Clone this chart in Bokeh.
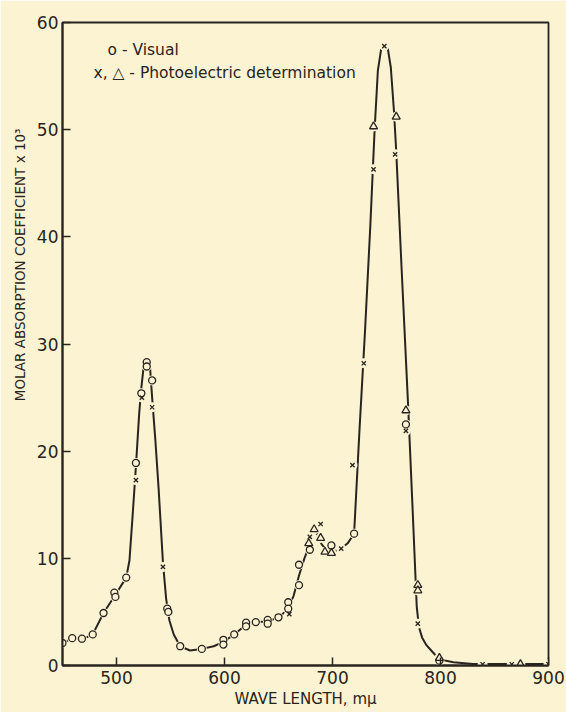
from bokeh.plotting import figure
from bokeh.models import Range1d, FixedTicker, Label, Title
from bokeh.embed import file_html
from bokeh.resources import INLINE

# ---- data ----
curve_wl = [450, 460, 470, 478, 488, 499, 509, 512, 515, 518, 521, 523, 525, 528, 531,
            533, 536, 539, 543, 546, 549, 553, 559, 568, 579, 590, 599, 609, 620, 630,
            640, 650, 656, 660, 664, 669, 674, 679, 683, 686, 690, 695, 700, 708, 714,
            720, 725, 730, 735, 739, 742, 745, 748, 751, 754, 757, 759, 764, 770, 774,
            778, 780, 783, 787, 791, 795, 800, 812, 830, 860, 900]
curve_val = [2.1, 2.55, 2.5, 2.9, 4.9, 6.6, 8.2, 9.8, 14.1, 18.6, 23.5, 25.9, 27.75, 28.6, 27.9,
             25.0, 21.0, 16.5, 9.6, 6.2, 4.2, 2.9, 1.8, 1.4, 1.55, 1.8, 2.2, 2.9, 3.8, 4.05,
             4.1, 4.5, 5.0, 5.6, 6.5, 8.4, 10.0, 11.3, 12.6, 12.2, 11.3, 10.7, 10.6, 10.9, 11.4,
             12.3, 22.0, 31.0, 41.0, 50.0, 55.5, 57.5, 57.9, 57.7, 55.8, 51.6, 48.0, 37.0, 24.3, 15.0,
             5.5, 3.6, 2.6, 1.9, 1.45, 1.0, 0.55, 0.3, 0.15, 0.15, 0.15]

visual_wl = [450, 459, 468, 478, 488, 498, 499, 509, 518, 523, 528, 528, 533, 547, 548,
             559, 579, 599, 599, 609, 620, 620, 629, 640, 640, 650, 659, 659, 669, 669,
             679, 699, 720, 768, 799]
visual_val = [2.1, 2.55, 2.5, 2.9, 4.9, 6.8, 6.4, 8.2, 18.9, 25.4, 28.3, 27.9, 26.6, 5.3, 5.0,
              1.8, 1.55, 2.4, 1.95, 2.9, 4.0, 3.65, 4.05, 4.25, 3.9, 4.5, 5.9, 5.3, 7.5, 9.4,
              10.8, 11.2, 12.3, 22.5, 0.45]

photo_x_wl = [518, 523.5, 533, 543, 660, 679, 689, 708, 718.5, 729, 738, 748, 758, 768, 779,
              839, 866, 900]
photo_x_val = [17.3, 25.0, 24.1, 9.2, 4.8, 12.0, 13.2, 10.9, 18.7, 28.2, 46.3, 57.8, 47.7, 21.9, 3.9,
               0.12, 0.12, 0.12]

photo_tri_wl = [678, 683, 689, 693, 699, 738, 759, 768, 779, 779, 799, 874]
photo_tri_val = [11.4, 12.7, 11.9, 10.6, 10.5, 50.3, 51.2, 23.8, 7.5, 7.0, 0.7, 0.12]

x_ticks = [500, 600, 700, 800, 900]
y_ticks = [0, 10, 20, 30, 40, 50, 60]

BG = "#FCF3D3"
INK = "#2A2420"
FONT = "DejaVu Sans"

p = figure(width=566, height=712, output_backend="svg", toolbar_location=None,
           x_range=Range1d(450, 900), y_range=Range1d(0, 60),
           min_border_left=62, min_border_right=18, min_border_top=22, min_border_bottom=47)
p.background_fill_color = BG
p.border_fill_color = BG
p.outline_line_color = INK
p.outline_line_width = 1.8
p.grid.visible = False

for ax in (p.xaxis[0], p.yaxis[0]):
    ax.axis_line_color = INK
    ax.axis_line_width = 2
    ax.major_tick_in = 8
    ax.major_tick_out = 0
    ax.major_tick_line_color = INK
    ax.major_tick_line_width = 1.5
    ax.minor_tick_line_color = None
    ax.major_label_text_font = FONT
    ax.major_label_text_font_size = "17px"
    ax.major_label_text_color = INK
p.xaxis.ticker = FixedTicker(ticks=x_ticks)
p.yaxis.ticker = FixedTicker(ticks=y_ticks)
p.xaxis.major_label_standoff = 5
p.yaxis.major_label_standoff = 4

p.xaxis.axis_label = "WAVE LENGTH, m\u03BC"
p.xaxis.axis_label_text_font = FONT
p.xaxis.axis_label_text_font_size = "15px"
p.xaxis.axis_label_text_font_style = "normal"
p.xaxis.axis_label_text_color = INK
p.xaxis.axis_label_standoff = 3

ytitle = Title(text="MOLAR ABSORPTION COEFFICIENT x 10\u00B3", align="right", offset=106,
               text_font=FONT, text_font_size="13.5px", text_font_style="normal",
               text_color=INK, standoff=11)
p.add_layout(ytitle, "left")

# curve
p.line(curve_wl, curve_val, line_color=INK, line_width=2)

# halos that interrupt the curve around markers
p.scatter(visual_wl + photo_x_wl + photo_tri_wl,
          visual_val + photo_x_val + photo_tri_val,
          marker="circle", size=10, fill_color=BG, line_color=None)

p.scatter(visual_wl, visual_val, marker="circle", size=7, fill_color=BG,
          line_color=INK, line_width=1.3)
p.scatter(photo_x_wl, photo_x_val, marker="x", size=6, line_color=INK, line_width=1.3)
p.scatter(photo_tri_wl, photo_tri_val, marker="triangle", size=8, fill_color=BG,
          line_color=INK, line_width=1.3)

# legend texts
p.add_layout(Label(x=491.7, y=57.4, text="o - Visual", text_font=FONT,
                   text_font_size="15.5px", text_color=INK, text_baseline="middle"))
p.add_layout(Label(x=478.7, y=55.3, text="x, \u25B3 - Photoelectric determination",
                   text_font=FONT, text_font_size="15.5px", text_color=INK,
                   text_baseline="middle"))

open("out.html", "w").write(file_html(p, INLINE))
